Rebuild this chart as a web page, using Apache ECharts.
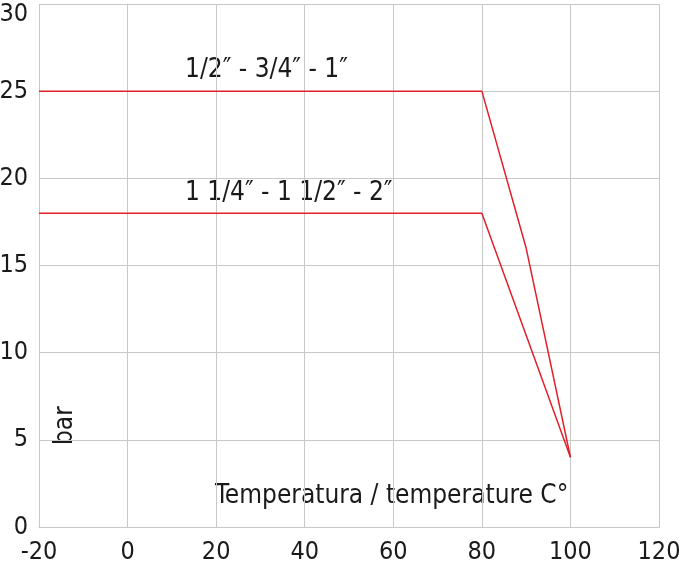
<!DOCTYPE html>
<html>
<head>
<meta charset="utf-8">
<script src="https://cdn.jsdelivr.net/npm/echarts@6/dist/echarts.min.js"></script>
<style>
  html, body { margin: 0; padding: 0; background: #fff; }
  #main { width: 680px; height: 570px; }
</style>
</head>
<body>
<div id="main"></div>
<script>
// pressure / temperature curves
var smallSizes = [[-20, 25], [80, 25], [90, 16], [100, 4]];
var largeSizes = [[-20, 18], [80, 18], [90, 11], [100, 4]];
var seriesNames = ['1/2\u2033 - 3/4\u2033 - 1\u2033', '1 1/4\u2033 - 1 1/2\u2033 - 2\u2033'];

var font = '"DejaVu Sans Condensed", "Liberation Sans Narrow", sans-serif';
var txt = '#1a1a1a';

var chart = echarts.init(document.getElementById('main'));

var option = {
  animation: false,
  grid: { left: 39, right: 21, top: 4, bottom: 43, outerBoundsMode: 'none' },
  xAxis: {
    type: 'value',
    min: -20, max: 120, interval: 20,
    axisLine: { show: true, lineStyle: { color: '#c8c8c8' } },
    axisTick: { show: false },
    axisLabel: { color: txt, fontSize: 25, fontFamily: font, margin: 13 },
    splitLine: { show: true, lineStyle: { color: '#c8c8c8' } }
  },
  yAxis: {
    type: 'value',
    min: 0, max: 30, interval: 5,
    axisLine: { show: true, lineStyle: { color: '#c8c8c8' } },
    axisTick: { show: false },
    axisLabel: {
      color: txt, fontSize: 25, fontFamily: font, margin: 11,
      // top label sits a bit lower so it stays inside the picture
      formatter: function (v) { return v === 30 ? '{top|' + v + '}' : v; },
      rich: { top: { fontSize: 25, fontFamily: font, color: txt, padding: [20, 0, 0, 0] } }
    },
    splitLine: { show: true, lineStyle: { color: '#c8c8c8' } }
  },
  graphic: [
    { type: 'rect', shape: { x: 39.5, y: 4.5, width: 620, height: 523 }, style: { fill: 'none', stroke: '#c8c8c8', lineWidth: 1 }, silent: true },
    { type: 'text', left: 185, top: 57, style: { text: seriesNames[0], fill: txt, fontSize: 26, fontFamily: font } },
    { type: 'text', left: 185, top: 180, style: { text: seriesNames[1], fill: txt, fontSize: 26, fontFamily: font } },
    { type: 'text', x: 52, y: 445, rotation: Math.PI / 2, style: { text: 'bar', fill: txt, fontSize: 26, fontFamily: font } },
    { type: 'text', left: 215, top: 483, style: { text: 'Temperatura / temperature C\u00b0', fill: txt, fontSize: 26, fontFamily: font } }
  ],
  series: [
    {
      name: seriesNames[0], type: 'line', data: smallSizes,
      symbol: 'none', lineStyle: { color: '#e2202a', width: 1.5 }
    },
    {
      name: seriesNames[1], type: 'line', data: largeSizes,
      symbol: 'none', lineStyle: { color: '#e2202a', width: 1.5 }
    }
  ]
};

chart.setOption(option);
</script>
</body>
</html>
